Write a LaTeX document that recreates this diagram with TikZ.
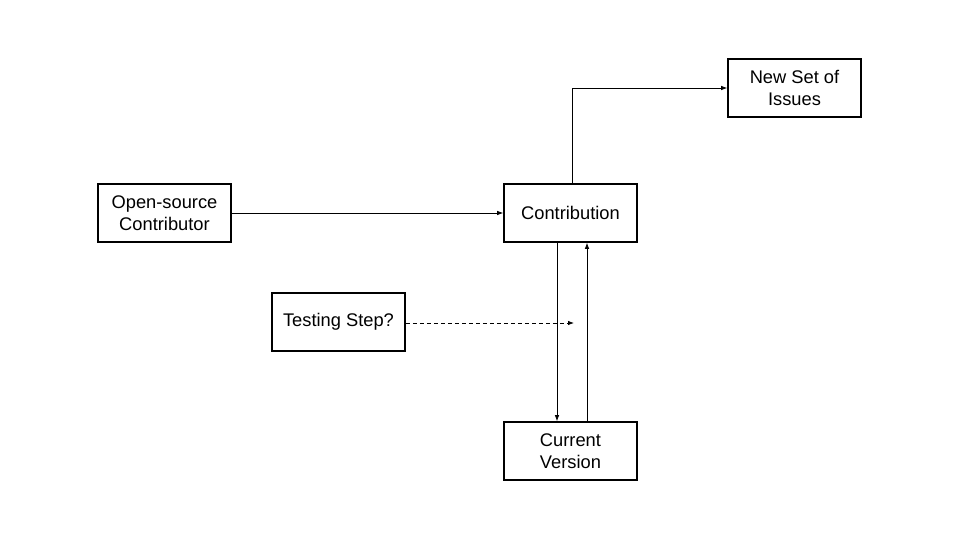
\documentclass[tikz,border=0pt]{standalone}
\usepackage{fontspec}
\setmainfont{Liberation Sans}
\usetikzlibrary{arrows.meta}
\begin{document}
\begin{tikzpicture}[x=1pt,y=-1pt,
  box/.style={draw=black,line width=1.6pt,minimum width=133pt,minimum height=58pt,align=center,inner sep=0pt,font=\fontsize{18.3}{22.5}\selectfont},
  conn/.style={line width=0.8pt,-{Latex[length=6pt,width=4.5pt]}}]
\useasboundingbox (0,0) rectangle (960,540);
\node[box] (contrib) at (164.5,213) {Open-source\\Contributor};
\node[box] (contribution) at (570.5,213) {Contribution};
\node[box] (issues) at (794.5,88) {New Set of\\Issues};
\node[box] (testing) at (338.5,322) {Testing Step?};
\node[box] (current) at (570.5,451) {Current\\Version};
\coordinate (dashend) at (574,323);
\draw[conn] ([xshift=1.5pt]contribution.north) |- (issues.west);
\draw[conn] (contrib.east) -- (contribution.west);
\draw[conn] ([xshift=-13.5pt]contribution.south) -- ([xshift=-13.5pt]current.north);
\draw[conn] ([xshift=16.5pt]current.north) -- ([xshift=16.5pt]contribution.south);
\draw[conn,dashed,dash pattern=on 4pt off 3pt] (testing.east |- dashend) -- (dashend);
\end{tikzpicture}
\end{document}
